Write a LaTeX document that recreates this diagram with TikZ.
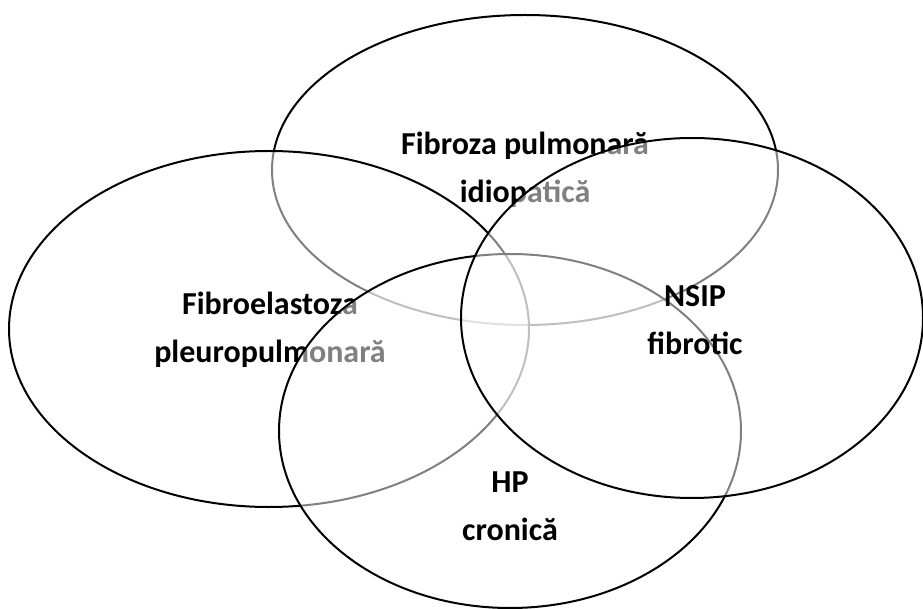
\documentclass[tikz,border=0pt]{standalone}
\usepackage{fontspec}
\setmainfont{Carlito}
\usetikzlibrary{calc}
\definecolor{SetClr}{rgb}{0,0,0}

\begin{document}
\begin{tikzpicture}[x=1pt,y=-1pt,
  set/.style={draw=SetClr,line width=2pt,fill=white,fill opacity=0.5},
  lbl/.style={font=\bfseries\fontsize{32}{48.5}\selectfont,align=center,text=black}]
\useasboundingbox (0,0) rectangle (923,609);

\coordinate (ipf) at (525,170);
\coordinate (ppfe) at (269,329);
\coordinate (hp) at (510,431);
\coordinate (nsip) at (692,318);

% each set is filled half white, so it greys what lies under it
\draw[set] (ipf) ellipse [x radius=253pt, y radius=155pt];
\node[lbl] (tipf) at ($(ipf)+(0,0)$) {Fibroza pulmonară\\idiopatică};

\draw[set] (ppfe) ellipse [x radius=260pt, y radius=178pt];
\node[lbl] (tppfe) at ($(ppfe)+(1,1)$) {Fibroelastoza\\pleuropulmonară};

\draw[set] (hp) ellipse [x radius=231pt, y radius=177pt];
\node[lbl] (thp) at ($(hp)+(0,75)$) {HP\\cronică};

\draw[set] (nsip) ellipse [x radius=231pt, y radius=180pt];
\node[lbl] (tnsip) at ($(nsip)+(3,2)$) {NSIP\\fibrotic};

\end{tikzpicture}
\end{document}
